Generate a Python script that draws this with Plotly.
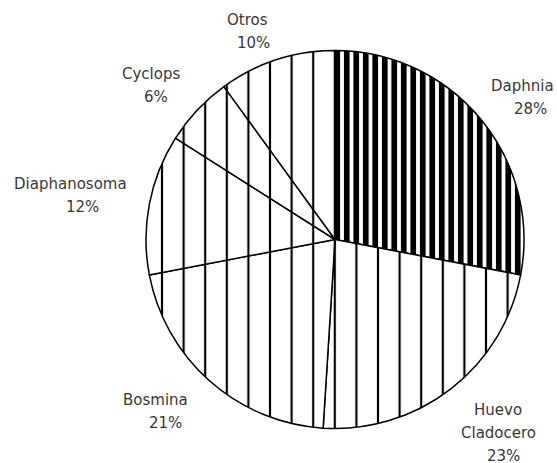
import plotly.graph_objects as go

# Diet composition (%)
categories = ["Daphnia", "Huevo Cladocero", "Bosmina", "Diaphanosoma", "Cyclops", "Otros"]
percentages = [28, 23, 21, 12, 6, 10]

W, H = 557, 463
CX, CY, R = 335, 239.5, 189

# Label placement in pixels: (name centre x, percent centre x, first line y)
label_pos = {
    "Daphnia": (522, 530, 86),
    "Huevo Cladocero": (498, 503, 410),
    "Bosmina": (155, 165, 400),
    "Diaphanosoma": (70, 82, 184),
    "Cyclops": (151, 156, 74),
    "Otros": (247, 253, 20),
}
LINE_STEP = 23

pattern_size = [9.5 if c == "Daphnia" else 21.6 for c in categories]
pattern_solid = [0.6 if c == "Daphnia" else 0.1 for c in categories]

fig = go.Figure(
    go.Pie(
        labels=categories,
        values=percentages,
        sort=False,
        direction="clockwise",
        rotation=0,
        textinfo="none",
        hoverinfo="label+percent",
        showlegend=False,
        marker=dict(
            colors=["white"] * len(categories),
            line=dict(color="black", width=1.5),
            pattern=dict(
                shape=["|"] * len(categories),
                size=pattern_size,
                solidity=pattern_solid,
                fgcolor="black",
                bgcolor="white",
                fillmode="replace",
            ),
        ),
        domain=dict(
            x=[(CX - R) / W, (CX + R) / W],
            y=[1 - (CY + R) / H, 1 - (CY - R) / H],
        ),
    )
)

font = dict(family="DejaVu Sans", size=15, color="#383838")
annotations = []
for cat, val in zip(categories, percentages):
    nx, px, y0 = label_pos[cat]
    words = cat.split(" ")
    for i, w in enumerate(words):
        annotations.append(dict(
            x=nx / W, y=1 - (y0 + i * LINE_STEP) / H, xref="paper", yref="paper",
            text=w, showarrow=False, xanchor="center", yanchor="middle", font=font,
        ))
    annotations.append(dict(
        x=px / W, y=1 - (y0 + len(words) * LINE_STEP) / H, xref="paper", yref="paper",
        text=f"{val}%", showarrow=False, xanchor="center", yanchor="middle", font=font,
    ))

fig.update_layout(
    width=W,
    height=H,
    margin=dict(l=0, r=0, t=0, b=0),
    paper_bgcolor="white",
    plot_bgcolor="white",
    annotations=annotations,
)

fig.write_html("out.html")
